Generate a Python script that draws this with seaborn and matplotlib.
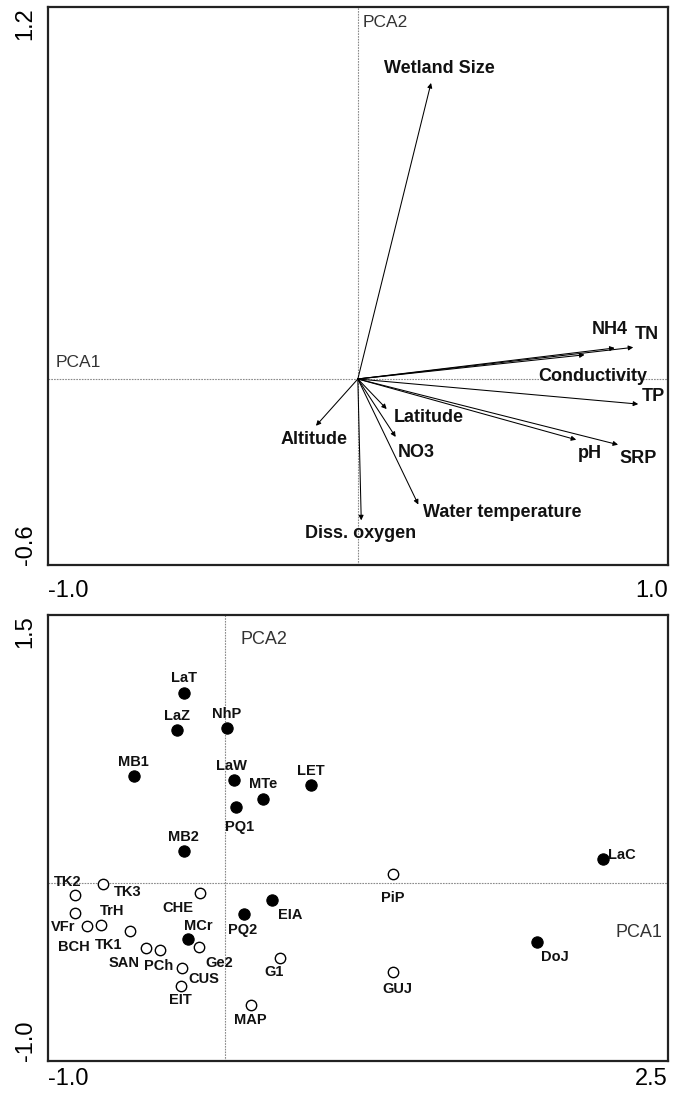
import seaborn as sns
import matplotlib.pyplot as plt
import pandas as pd

# --- top panel: variable loadings (PCA1, PCA2) ---
var_names = ["Wetland Size", "NH4", "TN", "Conductivity", "TP", "pH", "SRP",
             "Latitude", "NO3", "Altitude", "Water temperature", "Diss. oxygen"]
var_pc1 = [0.236, 0.828, 0.888, 0.731, 0.904, 0.704, 0.839, 0.093, 0.122, -0.135, 0.195, 0.011]
var_pc2 = [0.955, 0.100, 0.102, 0.078, -0.081, -0.196, -0.212, -0.097, -0.187, -0.151, -0.405, -0.456]

# --- bottom panel: site scores ---
site_names = ["LaT", "LaZ", "NhP", "MB1", "LaW", "MTe", "LET", "PQ1", "MB2",
              "MCr", "PQ2", "EIA", "DoJ", "LaC",
              "TK2", "TK3", "VFr", "BCH", "TrH", "TK1", "SAN", "PCh", "CHE", "Ge2",
              "CUS", "EIT", "MAP", "G1", "GUJ", "PiP"]
site_pc1 = [-0.232, -0.270, 0.011, -0.513, 0.049, 0.213, 0.485, 0.064, -0.232,
            -0.210, 0.109, 0.265, 1.761, 2.133,
            -0.848, -0.687, -0.848, -0.780, -0.701, -0.535, -0.447, -0.364, -0.143, -0.148,
            -0.241, -0.249, 0.145, 0.312, 0.951, 0.946]
site_pc2 = [1.062, 0.853, 0.866, 0.600, 0.577, 0.470, 0.547, 0.421, 0.175,
            -0.316, -0.178, -0.097, -0.335, 0.131,
            -0.069, -0.009, -0.169, -0.242, -0.238, -0.270, -0.365, -0.376, -0.060, -0.360,
            -0.481, -0.579, -0.689, -0.421, -0.504, 0.047]
site_group = ["filled"] * 14 + ["open"] * 16

# label placement (layout only)
var_label_xy = {
    "Wetland Size": (0.262, 1.003), "NH4": (0.812, 0.161), "TN": (0.931, 0.143),
    "Conductivity": (0.758, 0.009), "TP": (0.953, -0.056), "pH": (0.748, -0.241),
    "SRP": (0.904, -0.255), "Latitude": (0.228, -0.123), "NO3": (0.187, -0.237),
    "Altitude": (-0.142, -0.196), "Water temperature": (0.467, -0.432),
    "Diss. oxygen": (0.009, -0.499),
}
site_label_off = {  # pixels: dx right, dy down
    "LaT": (0, -14.7), "LaZ": (0, -14.3), "NhP": (0, -14.3), "MB1": (-1, -14),
    "LaW": (-2, -14), "MTe": (0, -14.3), "LET": (0, -14.3), "PQ1": (3.7, 19.3),
    "MB2": (0, -14), "MCr": (10.8, -13.3), "PQ2": (-1.3, 15.7), "EIA": (18.6, 15),
    "DoJ": (18.1, 15), "LaC": (19.4, -4.3), "TK2": (-7.3, -13.3), "TK3": (24.6, 8.3),
    "VFr": (-11.7, 14), "BCH": (-13, 21.7), "TrH": (11.2, -14), "TK1": (-21.6, 14.3),
    "SAN": (-22, 15), "PCh": (-2.2, 16.3), "CHE": (-21.6, 15), "Ge2": (20.3, 16),
    "CUS": (21.6, 10.7), "EIT": (0, 14.3), "MAP": (0, 14.7), "G1": (-6, 14.7),
    "GUJ": (3.5, 17), "PiP": (0, 24),
}

sns.set_theme(style="white")
plt.rcParams["font.family"] = ["Liberation Sans", "DejaVu Sans"]

fig = plt.figure(figsize=(6.84, 10.93), dpi=100)
ax1 = fig.add_axes([0.0697, 0.4831, 0.9069, 0.5105])
ax2 = fig.add_axes([0.0697, 0.0293, 0.9069, 0.4081])

ref_kw = dict(color="#8a8a8a", lw=0.8, ls=(0, (1.5, 1)), zorder=0)


def frame(ax, xt, yt, xlab, ylab, xpad, ypad):
    ax.set_xticks(xt)
    ax.set_yticks(yt)
    ax.set_xticklabels([xlab[0]] + [""] * (len(xt) - 2) + [xlab[1]], fontsize=17)
    ax.set_yticklabels([ylab[0]] + [""] * (len(yt) - 2) + [ylab[1]], fontsize=17, rotation=90)
    xl = ax.get_xticklabels()
    xl[0].set_ha("left")
    xl[-1].set_ha("right")
    yl = ax.get_yticklabels()
    yl[0].set_va("bottom")
    yl[-1].set_va("top")
    ax.tick_params(axis="x", direction="inout", length=6, width=1, color="#222",
                   labelcolor="black", pad=xpad)
    ax.tick_params(axis="y", direction="inout", length=6, width=1, color="#222",
                   labelcolor="black", pad=ypad)
    for s in ax.spines.values():
        s.set_color("#222")
        s.set_linewidth(1.6)


# ---------- top panel ----------
ax1.set_xlim(-1.0, 1.0)
ax1.set_ylim(-0.6, 1.2)
ax1.axhline(0, **ref_kw)
ax1.axvline(0, **ref_kw)
for name, px, py in zip(var_names, var_pc1, var_pc2):
    ax1.annotate("", xy=(px, py), xytext=(0, 0),
                 arrowprops=dict(arrowstyle="-|>", lw=0.75, color="black",
                                 mutation_scale=7, shrinkA=0, shrinkB=0))
    lx, ly = var_label_xy[name]
    ax1.text(lx, ly, name, fontsize=13, fontweight="bold", ha="center", va="center",
             color="#111")
ax1.text(0.015, 1.15, "PCA2", fontsize=12.5, color="#333", ha="left", va="center")
ax1.text(-0.975, 0.053, "PCA1", fontsize=12.5, color="#333", ha="left", va="center")
frame(ax1, [-1.0, -0.5, 0, 0.5, 1.0], [-0.6, -0.5, 0, 0.5, 1.0, 1.2],
      ("-1.0", "1.0"), ("-0.6", "1.2"), 8, 5)

# ---------- bottom panel ----------
sites = pd.DataFrame({"name": site_names, "pc1": site_pc1, "pc2": site_pc2, "group": site_group})
ax2.set_xlim(-1.0, 2.5)
ax2.set_ylim(-1.0, 1.5)
ax2.axhline(0, **ref_kw)
ax2.axvline(0, **ref_kw)
sns.scatterplot(data=sites[sites.group == "filled"], x="pc1", y="pc2", ax=ax2,
                s=66, color="black", edgecolor="black", linewidth=0.8, zorder=3)
sns.scatterplot(data=sites[sites.group == "open"], x="pc1", y="pc2", ax=ax2,
                s=56, facecolor="white", edgecolor="black", linewidth=1.0, zorder=3)
for name, px, py in zip(site_names, site_pc1, site_pc2):
    dx, dy = site_label_off[name]
    ax2.annotate(name, (px, py), xytext=(dx * 0.72, -dy * 0.72), textcoords="offset points",
                 fontsize=10.5, fontweight="bold", ha="center", va="center", color="#111")
ax2.text(0.09, 1.36, "PCA2", fontsize=13, color="#333", ha="left", va="center")
ax2.text(2.47, -0.28, "PCA1", fontsize=13, color="#333", ha="right", va="center")
ax2.set_xlabel("")
ax2.set_ylabel("")
frame(ax2, [-1.0, -0.5, 0, 0.5, 1.0, 1.5, 2.0, 2.5], [-1.0, -0.5, 0, 0.5, 1.0, 1.5],
      ("-1.0", "2.5"), ("-1.0", "1.5"), 2, 5)

fig.savefig("out.png", dpi=100)
